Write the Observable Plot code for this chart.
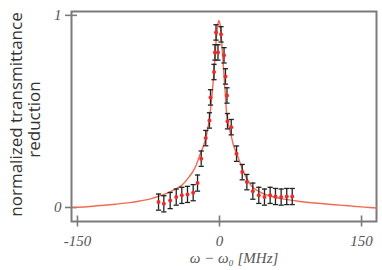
<!DOCTYPE html>
<html>
<head>
<meta charset="utf-8">
<script src="https://cdn.jsdelivr.net/npm/d3@7"></script>
<script src="https://cdn.jsdelivr.net/npm/@observablehq/plot@0.6"></script>
<style>
  html, body { margin: 0; padding: 0; background: #fff; }
</style>
</head>
<body>
<div id="chart"></div>
<script>
// Measured detuning (MHz)
const detuning = [-64.4, -58.8, -52.1, -45.7, -39.8, -33.8, -27.8, -23.2, -19.3, -14.5, -10.6, -9.5,
  -5.8, -4.8, -3.7, -1.6, 1.6, 4.8, 6.3, 7.9, 8.4, 12.4, 18.0, 24.0, 28.9, 35.2, 41.5, 47.5,
  53.5, 59.1, 65.1, 71.0, 76.8];
// Normalized transmittance reduction
const reduction = [0.028, 0.019, 0.036, 0.054, 0.063, 0.068, 0.077, 0.127, 0.254, 0.361, 0.453, 0.573,
  0.705, 0.807, 0.911, 0.807, 0.901, 0.792, 0.682, 0.583, 0.449, 0.418, 0.280, 0.184, 0.132, 0.085, 0.063, 0.054,
  0.063, 0.057, 0.054, 0.057, 0.057];
// Error bar half-widths
const errors = [0.042, 0.042, 0.042, 0.042, 0.042, 0.042, 0.042, 0.042, 0.040, 0.040, 0.040, 0.040,
  0.040, 0.040, 0.040, 0.040, 0.040, 0.040, 0.040, 0.040, 0.040, 0.040, 0.040, 0.040, 0.040, 0.042, 0.042, 0.042,
  0.042, 0.042, 0.042, 0.042, 0.042];

// Fit curve
const fitX = [-154, -140, -125, -110, -95, -84, -72, -63, -55, -48, -40, -32, -26, -21, -17, -14, -11, -8, -5.5,
  -3.5, -1.8, -0.7, 0.5, 2, 4, 6, 8, 10, 12.5, 15, 19, 25, 30, 35, 45, 56, 70, 85, 100, 115, 127, 140, 153, 166];
const fitY = [0.000, 0.004, 0.010, 0.017, 0.025, 0.034, 0.046, 0.060, 0.075, 0.092, 0.115, 0.160, 0.205, 0.270,
  0.320, 0.370, 0.450, 0.580, 0.730, 0.870, 0.950, 0.974, 0.955, 0.880, 0.740, 0.600, 0.470, 0.420, 0.370, 0.320,
  0.270, 0.190, 0.140, 0.105, 0.075, 0.056, 0.042, 0.031, 0.023, 0.017, 0.012, 0.007, 0.002, -0.003];

const xTicks = [-150, 0, 150];
const yTicks = [0, 1];
const yLabelLines = ["normalized transmittance", "reduction"];
const xLabel = "ω − ω₀ [MHz]";

const points = detuning.map((x, i) => ({x, y: reduction[i], e: errors[i]}));
const fit = fitX.map((x, i) => ({x, y: fitY[i]}));

const cap = { draw(ctx) { ctx.moveTo(-2.6, 0); ctx.lineTo(2.6, 0); } };
const frameColor = "#7b7b7b";
const serif = "'Liberation Serif', 'DejaVu Serif', serif";
const sans = "'Open Sans', sans-serif";

const chart = Plot.plot({
  width: 382,
  height: 270,
  marginLeft: 71,
  marginRight: 6,
  marginTop: 11,
  marginBottom: 49,
  style: { background: "#fff", overflow: "visible" },
  x: { domain: [-156.3, 165.8] },
  y: { domain: [-0.073, 1.02] },
  marks: [
    Plot.frame({ stroke: frameColor, strokeWidth: 2 }),
    Plot.axisX(xTicks, { anchor: "bottom", tickSize: 11, dy: -5.5, stroke: frameColor, strokeWidth: 1.6, tickFormat: () => "", label: null }),
    Plot.axisX(xTicks, { anchor: "bottom", tickSize: 0, tickPadding: 14, tickFormat: d => String(d),
      fontFamily: serif, fontStyle: "italic", fontSize: 15, fill: "#555", label: null }),
    Plot.axisY(yTicks, { anchor: "left", tickSize: 12, dx: 6, stroke: frameColor, strokeWidth: 1.6, tickFormat: () => "", label: null }),
    Plot.axisY(yTicks, { anchor: "left", tickSize: 0, tickPadding: 10, tickFormat: d => String(d),
      fontFamily: serif, fontStyle: "italic", fontSize: 15, fill: "#555", label: null }),
    Plot.line(fit, { x: "x", y: "y", stroke: "#f26a52", strokeWidth: 1.4, curve: "catmull-rom" }),
    Plot.ruleX(points, { x: "x", y1: d => d.y - d.e, y2: d => d.y + d.e, stroke: "#222", strokeWidth: 1.3 }),
    Plot.dot(points, { x: "x", y: d => d.y + d.e, symbol: cap, stroke: "#222", strokeWidth: 1.3 }),
    Plot.dot(points, { x: "x", y: d => d.y - d.e, symbol: cap, stroke: "#222", strokeWidth: 1.3 }),
    Plot.dot(points, { x: "x", y: "y", r: 2, fill: "#ee2a2a" }),
    Plot.text([xLabel], { frameAnchor: "bottom", textAnchor: "middle", dx: 10, dy: 41, fontFamily: serif, fontStyle: "italic",
      fontSize: 15, fill: "#555" }),
    Plot.text([yLabelLines[0]], { frameAnchor: "left", textAnchor: "middle", lineAnchor: "middle", rotate: -90,
      dx: -55, dy: -2, fontFamily: sans, fontSize: 17, fill: "#333" }),
    Plot.text([yLabelLines[1]], { frameAnchor: "left", textAnchor: "middle", lineAnchor: "middle", rotate: -90,
      dx: -37, dy: 3, fontFamily: sans, fontSize: 17, fill: "#333" })
  ]
});
document.getElementById("chart").appendChild(chart);
</script>
</body>
</html>
